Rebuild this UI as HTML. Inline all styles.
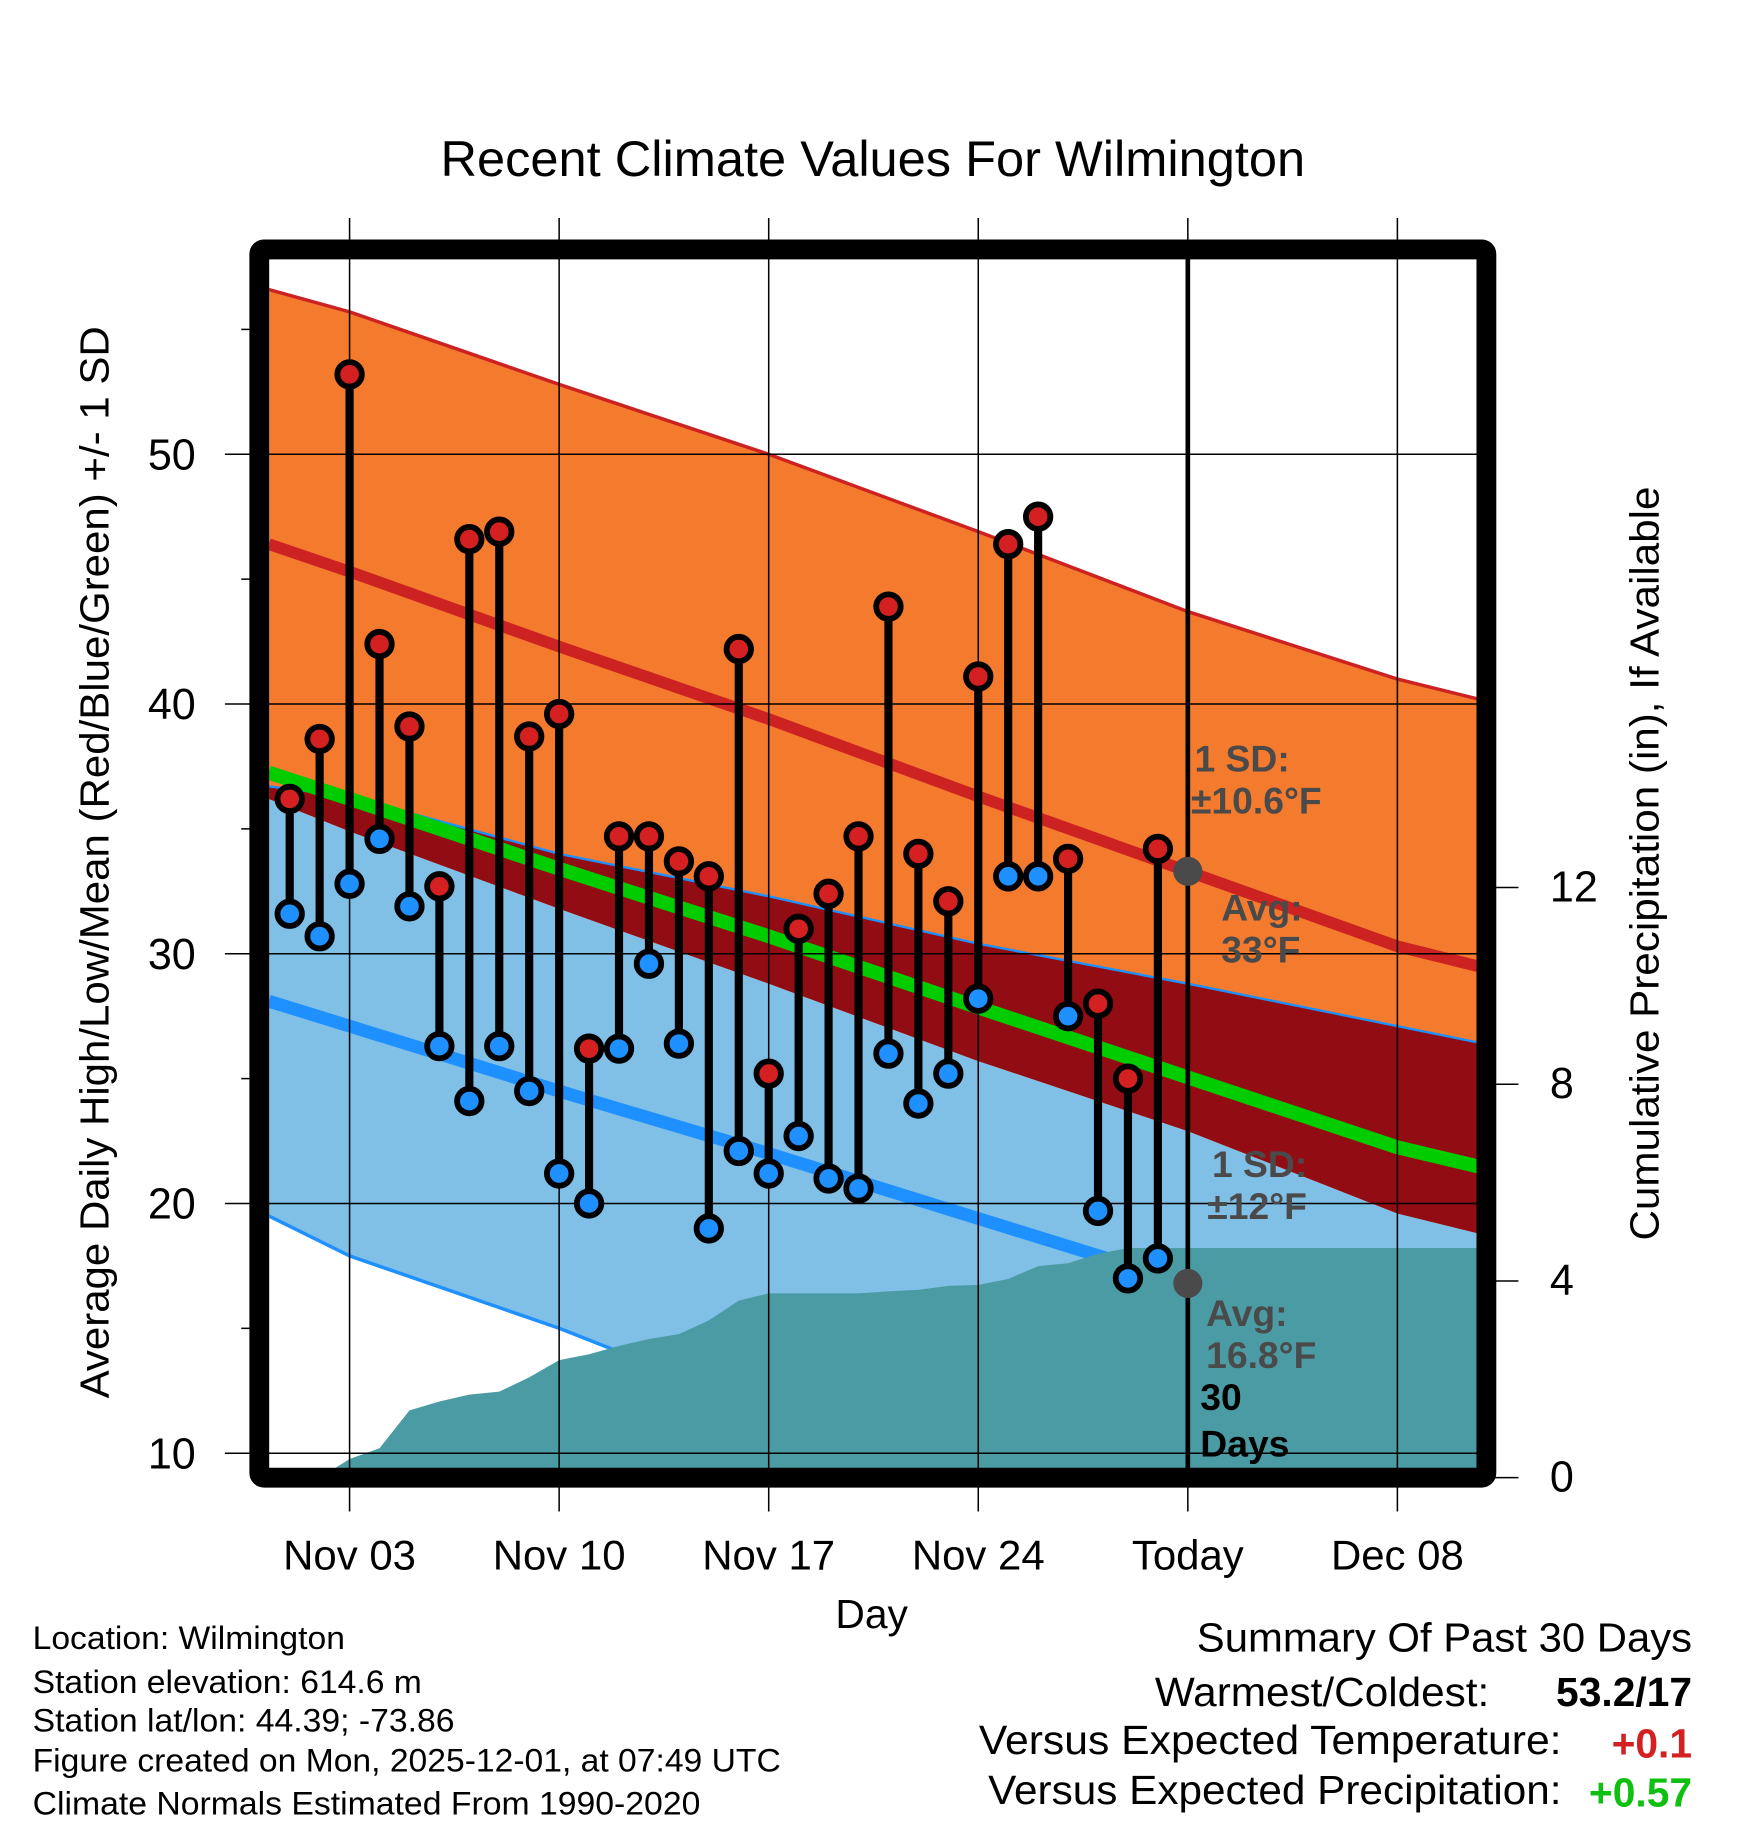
<!DOCTYPE html>
<html><head><meta charset="utf-8"><style>
html,body{margin:0;padding:0;background:#fff;}
svg{display:block;font-family:"Liberation Sans",Arial,sans-serif;}
</style></head><body>
<svg id="chart" width="1748" height="1828" viewBox="0 0 1500 1568.6" xmlns="http://www.w3.org/2000/svg">
<defs><clipPath id="plotclip"><rect x="231" y="222" width="1036" height="1038"/></clipPath></defs>
<rect x="0" y="0" width="1500" height="1568.6" fill="#fff"/>
<text x="749" y="151" font-size="43" text-anchor="middle" textLength="742" lengthAdjust="spacingAndGlyphs">Recent Climate Values For Wilmington</text>
<g id="under" clip-path="url(#plotclip)"></g>
<g id="grid"></g>
<g id="marks" clip-path="url(#plotclip)"></g>
<rect x="222.5" y="214" width="1053" height="1054" fill="none" stroke="#000" stroke-width="17" rx="4"/>
<g id="over"></g>
<text transform="translate(93,740) rotate(-90)" font-size="35" text-anchor="middle" textLength="920" lengthAdjust="spacingAndGlyphs">Average Daily High/Low/Mean (Red/Blue/Green) +/- 1 SD</text>
<text transform="translate(1423,741) rotate(-90)" font-size="35" text-anchor="middle" textLength="647" lengthAdjust="spacingAndGlyphs">Cumulative Precipitation (in), If Available</text>
<text x="748" y="1397" font-size="35" text-anchor="middle">Day</text>
<g font-size="28">
<text x="28" y="1415" textLength="268" lengthAdjust="spacingAndGlyphs">Location: Wilmington</text>
<text x="28" y="1453" textLength="334" lengthAdjust="spacingAndGlyphs">Station elevation: 614.6 m</text>
<text x="28" y="1486" textLength="362" lengthAdjust="spacingAndGlyphs">Station lat/lon: 44.39; -73.86</text>
<text x="28" y="1520" textLength="642" lengthAdjust="spacingAndGlyphs">Figure created on Mon, 2025-12-01, at 07:49 UTC</text>
<text x="28" y="1557" textLength="573" lengthAdjust="spacingAndGlyphs">Climate Normals Estimated From 1990-2020</text>
</g>
<g font-size="35">
<text x="1452" y="1417" text-anchor="end" textLength="425" lengthAdjust="spacingAndGlyphs">Summary Of Past 30 Days</text>
<text x="1278" y="1464" text-anchor="end" textLength="287" lengthAdjust="spacingAndGlyphs">Warmest/Coldest:</text>
<text x="1452" y="1464" text-anchor="end" font-weight="bold">53.2/17</text>
<text x="1340" y="1505" text-anchor="end" textLength="500" lengthAdjust="spacingAndGlyphs">Versus Expected Temperature:</text>
<text x="1452" y="1508" text-anchor="end" font-weight="bold" fill="#d42020">+0.1</text>
<text x="1340" y="1548" text-anchor="end" textLength="492" lengthAdjust="spacingAndGlyphs">Versus Expected Precipitation:</text>
<text x="1452" y="1550" text-anchor="end" font-weight="bold" fill="#10c010">+0.57</text>
</g>
</svg>
<script>
// ---- data ----
const highs = [36.2,38.6,53.2,42.4,39.1,32.7,46.6,46.9,38.7,39.6,26.2,34.7,34.7,33.7,33.1,42.2,25.2,31.0,32.4,34.7,43.9,34.0,32.1,41.1,46.4,47.5,33.8,28.0,25.0,34.2];
const lows = [31.6,30.7,32.8,34.6,31.9,26.3,24.1,26.3,24.5,21.2,20.0,26.2,29.6,26.4,19.0,22.1,21.2,22.7,21.0,20.6,26.0,24.0,25.2,28.2,33.1,33.1,27.5,19.7,17.0,17.8];
const precip = [0,0,0.38,0.6,1.37,1.55,1.69,1.75,2.04,2.39,2.51,2.68,2.82,2.92,3.2,3.6,3.75,3.75,3.75,3.75,3.79,3.82,3.9,3.92,4.04,4.3,4.36,4.55,4.67,4.67];
// normals at day offsets from Nov 1 (0 = Nov 1)
const normDays = [-0.7,2,9,16,23,30,37,40.7];
const normHigh = [46.4,45.3,42.3,39.4,36.3,33.3,30.3,29.2];
const normHighSD = [10.2,10.4,10.5,10.6,10.6,10.4,10.7,10.7];
const normLow = [28.1,27.1,24.5,22.0,19.4,16.8,14.2,13.2];
const normLowSD = [8.6,9.2,9.5,10.3,11.0,12.0,12.9,13.0];
const xTickDays = [2,9,16,23,30,37];
const xTickLabels = ["Nov 03","Nov 10","Nov 17","Nov 24","Today","Dec 08"];
const yTicks = [10,20,30,40,50];
const pTicks = [0,4,8,12];

// ---- axes ----
const X = d => 248.6 + d*25.69;
const Y = v => 1247 - (v-10)*21.43;
const P = v => 1268 - v*42.2;
const NS = "http://www.w3.org/2000/svg";
function mk(tag, attrs, parent){const e=document.createElementNS(NS,tag);for(const k in attrs)e.setAttribute(k,attrs[k]);parent.appendChild(e);return e;}
const under=document.getElementById('under'), grid=document.getElementById('grid'), marks=document.getElementById('marks'), over=document.getElementById('over');
function pts(xs, ys){return xs.map((d,i)=>X(d).toFixed(1)+','+ys[i].toFixed(1)).join(' ');}
function band(upper, lower, fill, name){
  const p = pts(normDays, upper.map(Y)) + ' ' + pts(normDays.slice().reverse(), lower.slice().reverse().map(Y));
  const e = mk('polygon',{points:p,fill:fill},under);
  
  
}
const hiU = normHigh.map((v,i)=>v+normHighSD[i]);
const hiL = normHigh.map((v,i)=>v-normHighSD[i]);
const loU = normLow.map((v,i)=>v+normLowSD[i]);
const loL = normLow.map((v,i)=>v-normLowSD[i]);
band(loU, loL, '#80bfe6', 'low-sd-band');
band(hiU, hiL, '#f47a2e', 'high-sd-band');
band(loU, hiL.map((v,i)=>Math.min(v, loU[i])), '#920d13', 'overlap-band');
function line(vals, color, w, name){
  const e = mk('polyline',{points:pts(normDays, vals.map(Y)),fill:'none',stroke:color,'stroke-width':w},under);
  
  
}
line(hiU,'#cc2222',3,'high-plus-sd-line');
line(loU,'#1e90ff',2,'low-plus-sd-line');
line(loL,'#1e90ff',3,'low-minus-sd-line');
line(normHigh,'#cc2222',10,'normal-high-line');
line(normLow,'#1e90ff',11,'normal-low-line');
line(normHigh.map((v,i)=>(v+normLow[i])/2),'#00cc00',12,'normal-mean-line');
// precip area
{
  const days = precip.map((v,i)=>i);
  let p = pts(days, precip.map(P));
  p += ' ' + X(41).toFixed(1)+','+P(precip[precip.length-1]).toFixed(1);
  p += ' ' + X(41)+','+P(0)+' '+X(0)+','+P(0);
  const e = mk('polygon',{points:p,fill:'#4a9ba3'},under);
  
  
}
// grid & ticks
xTickDays.forEach((d,i)=>{
  const g = mk('line',{x1:X(d),x2:X(d),y1:187,y2:1297,stroke:'#000','stroke-width':1.3},grid);
  
  
  const t = mk('text',{x:X(d),y:1347,'font-size':36,'text-anchor':'middle'},over);
  t.textContent = xTickLabels[i];
  
  
});
yTicks.forEach(v=>{
  const g = mk('line',{x1:193,x2:1267,y1:Y(v),y2:Y(v),stroke:'#000','stroke-width':1.3},grid);
  
  
  const t = mk('text',{x:168,y:Y(v)+13,'font-size':37,'text-anchor':'end'},over);
  t.textContent = v;
  
  
});
for(let v=15; v<=55; v+=10){
  const g = mk('line',{x1:207,x2:215,y1:Y(v),y2:Y(v),stroke:'#000','stroke-width':1.3},grid);
  
  
}
pTicks.forEach(v=>{
  const g = mk('line',{x1:1283,x2:1303,y1:P(v),y2:P(v),stroke:'#000','stroke-width':1.3},over);
  
  
  const t = mk('text',{x:1330,y:P(v)+12,'font-size':37,'text-anchor':'start'},over);
  t.textContent = v;
  
  
});
// daily stems & dots
highs.forEach((h,i)=>{
  const l = lows[i], x = X(i);
  const s = mk('line',{x1:x,x2:x,y1:Y(h),y2:Y(l),stroke:'#000','stroke-width':7},marks);
  
  
});
highs.forEach((h,i)=>{
  const x = X(i);
  const c1 = mk('circle',{cx:x,cy:Y(h),r:10.5,fill:'#d42020',stroke:'#000','stroke-width':5},marks);
  
  
  const c2 = mk('circle',{cx:x,cy:Y(lows[i]),r:10.5,fill:'#1e90ff',stroke:'#000','stroke-width':5},marks);
  
  
});
// today line & annotations
{
  const tx = X(30);
  const tl = mk('line',{x1:tx,x2:tx,y1:222,y2:1260,stroke:'#000','stroke-width':4},over);
  
  
  const d1 = mk('circle',{cx:tx,cy:Y(normHigh[5]),r:12.5,fill:'#4a4a4a'},over);
  
  
  const d2 = mk('circle',{cx:tx,cy:Y(normLow[5]),r:12.5,fill:'#4a4a4a'},over);
  
  
  const ann = [
    ['1 SD:',1025,662,'#4a4a4a'],['±10.6°F',1022,698,'#4a4a4a'],
    ['Avg:',1048,790,'#4a4a4a'],['33°F',1048,826,'#4a4a4a'],
    ['1 SD:',1040,1010,'#4a4a4a'],['±12°F',1036,1046,'#4a4a4a'],
    ['Avg:',1035,1138,'#4a4a4a'],['16.8°F',1035,1174,'#4a4a4a'],
    ['30',1030,1210,'#000'],['Days',1030,1250,'#000']];
  ann.forEach(a=>{
    const t = mk('text',{x:a[1],y:a[2],'font-size':32,'font-weight':'bold',fill:a[3]},over);
    t.textContent = a[0];
    
    
  });
}
</script>
</body></html>
